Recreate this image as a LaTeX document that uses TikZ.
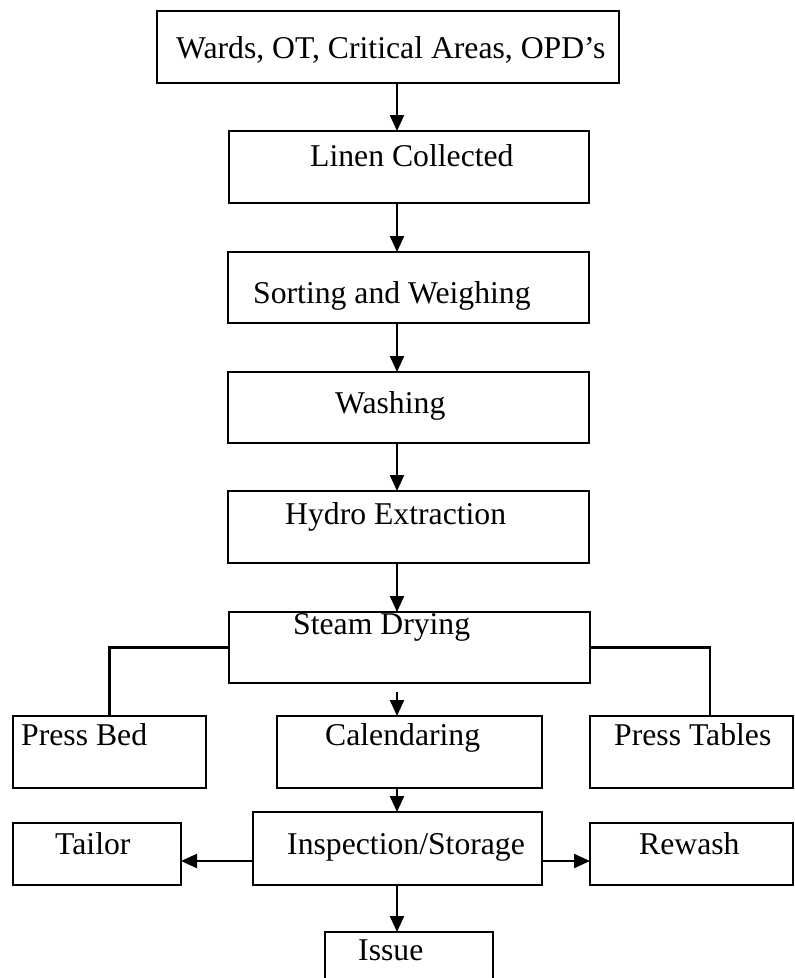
\documentclass[tikz,border=0pt]{standalone}
\usepackage{fontspec}
\setmainfont{Liberation Serif}
\usetikzlibrary{arrows.meta}

\tikzset{
	box/.style={draw, line width=2.2pt, inner sep=0pt, outer sep=0pt},
	txt/.style={anchor=base west, inner sep=0pt, font=\fontsize{31.7}{38}\selectfont},
	arr/.style={line width=2.2pt, -{Triangle[length=16pt,width=14pt]}},
	lnk/.style={line width=2.2pt}
}

\begin{document}
\begin{tikzpicture}[x=1pt,y=-1pt]
		\clip (0,0) rectangle (795,978);
		\coordinate (ax) at (397,0); % main arrow line.
		\coordinate (ay) at (0,861);
		\coordinate (rx) at (710,0);

		\node[box, minimum width=462, minimum height=72] (wards) at (388,47) {};
		\node[box, minimum width=360, minimum height=72] (linen) at (409,167) {};
		\node[box, minimum width=361, minimum height=71] (sort) at (408.5,287.5) {};
		\node[box, minimum width=361, minimum height=71] (wash) at (408.5,407.5) {};
		\node[box, minimum width=361, minimum height=72] (hydro) at (408.5,527) {};
		\node[box, minimum width=361, minimum height=71] (steam) at (409.5,647.5) {};
		\node[box, minimum width=193, minimum height=72] (pressbed) at (109.5,752) {};
		\node[box, minimum width=265, minimum height=72] (cal) at (409.5,752) {};
		\node[box, minimum width=203, minimum height=72] (presstab) at (691.5,752) {};
		\node[box, minimum width=289, minimum height=73] (insp) at (397.5,848.5) {};
		\node[box, minimum width=168, minimum height=62] (tailor) at (97,854) {};
		\node[box, minimum width=203, minimum height=62] (rewash) at (691.5,854) {};
		\node[box, minimum width=168, minimum height=68] (issue) at (409,966) {};

		\node[txt] (wards-t) at (176,58) {Wards, OT, Critical Areas, OPD’s};
		\node[txt] (linen-t) at (310,166) {Linen Collected};
		\node[txt] (sort-t) at (253,303) {Sorting and Weighing};
		\node[txt] (wash-t) at (335,413) {Washing};
		\node[txt] (hydro-t) at (285,524) {Hydro Extraction};
		\node[txt] (steam-t) at (293,634) {Steam Drying};
		\node[txt] (pressbed-t) at (21,745) {Press Bed};
		\node[txt] (cal-t) at (325,745) {Calendaring};
		\node[txt] (presstab-t) at (614,745) {Press Tables};
		\node[txt] (insp-t) at (287,854) {Inspection/Storage};
		\node[txt] (tailor-t) at (55,854) {Tailor};
		\node[txt] (rewash-t) at (639,854) {Rewash};
		\node[txt] (issue-t) at (358,960) {Issue};

		\draw[arr] (wards.south -| ax) -- (linen.north -| ax);
		\draw[arr] (linen.south -| ax) -- (sort.north -| ax);
		\draw[arr] (sort.south -| ax) -- (wash.north -| ax);
		\draw[arr] (wash.south -| ax) -- (hydro.north -| ax);
		\draw[arr] (hydro.south -| ax) -- (steam.north -| ax);
		\draw[arr] ([yshift=-9pt]steam.south -| ax) -- (cal.north -| ax);
		\draw[arr] (cal.south -| ax) -- (insp.north -| ax);
		\draw[arr] (insp.south -| ax) -- (issue.north -| ax);
		\draw[arr] (insp.west |- ay) -- (tailor.east |- ay);
		\draw[arr] (insp.east |- ay) -- (rewash.west |- ay);

		\draw[lnk] (steam.west) -| (pressbed.north); % side branches.
		\draw[lnk] (steam.east) -| (rx |- presstab.north);
	\end{tikzpicture}
\end{document}
